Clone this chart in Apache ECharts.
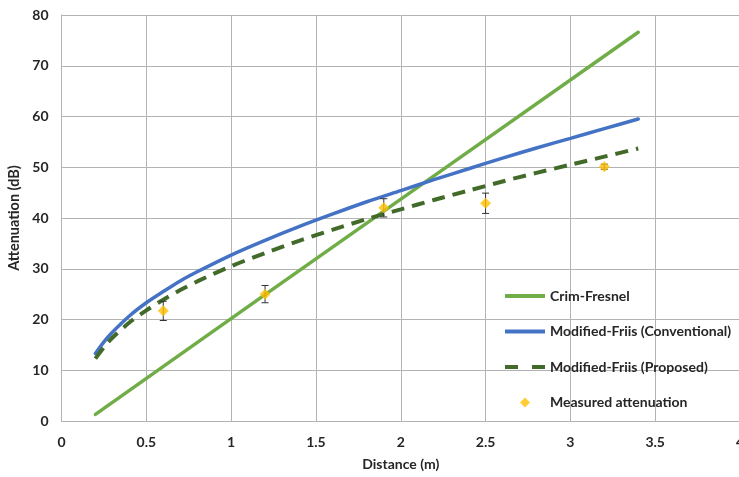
<!DOCTYPE html>
<html>
<head>
<meta charset="utf-8">
<script src="https://cdn.jsdelivr.net/npm/echarts@6/dist/echarts.min.js"></script>
<style>
html,body{margin:0;padding:0;background:#fff;}
#chart{width:739px;height:477px;}
</style>
</head>
<body>
<div id="chart"></div>
<script>
// ---- data ----
const xTicks = [0, 0.5, 1, 1.5, 2, 2.5, 3, 3.5, 4];
const yTicks = [0, 10, 20, 30, 40, 50, 60, 70, 80];

const fresnelX = [0.2, 1.2, 2.2, 3.4];
const fresnelY = [1.3, 24.9, 48.4, 76.6];

const curveX = [0.2, 0.25, 0.3, 0.4, 0.5, 0.6, 0.7, 0.8, 1.0, 1.2, 1.4, 1.6, 1.8, 2.0, 2.2, 2.4, 2.6, 2.8, 3.0, 3.2, 3.4];
const conventionalY = [13.3, 15.6, 17.5, 20.7, 23.3, 25.5, 27.6, 29.4, 32.7, 35.6, 38.3, 40.8, 43.2, 45.4, 47.6, 49.7, 51.8, 53.8, 55.7, 57.6, 59.5];
const proposedY = [12.3, 14.5, 16.4, 19.4, 21.8, 23.9, 25.8, 27.5, 30.5, 33.1, 35.5, 37.7, 39.8, 41.7, 43.6, 45.4, 47.2, 48.9, 50.5, 52.1, 53.7];

const measuredX = [0.6, 1.2, 1.9, 2.5, 3.2];
const measuredY = [21.7, 25.0, 42.0, 42.9, 50.1];
const measuredErr = [1.9, 1.7, 1.8, 2.0, 0.5];

const seriesNames = ['Crim-Fresnel', 'Modified-Friis (Conventional)', 'Modified-Friis (Proposed)', 'Measured attenuation'];

// ---- build ----
const zip = (xs, ys) => xs.map((x, i) => [x, ys[i]]);
const FONT = 'Lato';
const TXT = '#262626';
const GRIDC = '#b3b3b3';
const ICON_LINE = 'path://M0,0H40V4H0Z';
const ICON_DASH = 'path://M0,0H13V4H0Z M27,0H40V4H27Z';
const ICON_DIAMOND = 'path://M5,0L10,5L5,10L0,5Z';

const chart = echarts.init(document.getElementById('chart'), null, {renderer: 'canvas'});
chart.setOption({
  animation: false,
  backgroundColor: '#fff',
  grid: {left: 61.5, top: 15, width: 678.5, height: 406, containLabel: false, outerBoundsMode: 'none'},
  xAxis: {
    type: 'value', min: xTicks[0], max: xTicks[xTicks.length - 1], interval: 0.5,
    name: 'Distance (m)', nameLocation: 'middle', nameGap: 36,
    nameTextStyle: {fontFamily: FONT, fontWeight: 'bold', fontSize: 14, color: TXT},
    axisLine: {show: true, lineStyle: {color: GRIDC, width: 1}},
    axisTick: {show: false},
    splitLine: {show: true, lineStyle: {color: GRIDC, width: 1}},
    axisLabel: {fontFamily: FONT, fontWeight: 'bold', fontSize: 14, color: TXT, margin: 14,
      formatter: v => String(v)}
  },
  yAxis: {
    type: 'value', min: yTicks[0], max: yTicks[yTicks.length - 1], interval: 10,
    name: 'Attenuation (dB)', nameLocation: 'middle', nameGap: 35, nameRotate: 90,
    nameTextStyle: {fontFamily: FONT, fontWeight: 'bold', fontSize: 14.5, color: TXT},
    axisLine: {show: true, lineStyle: {color: GRIDC, width: 1}},
    axisTick: {show: false},
    splitLine: {show: true, lineStyle: {color: GRIDC, width: 1}},
    axisLabel: {fontFamily: FONT, fontWeight: 'bold', fontSize: 14, color: TXT, margin: 13}
  },
  legend: {
    orient: 'vertical', left: 500, top: 284,
    itemWidth: 40, itemHeight: 10, itemGap: 21.5,
    textStyle: {fontFamily: FONT, fontWeight: 'bold', fontSize: 14, color: TXT},
    data: [
      {name: seriesNames[0], icon: ICON_LINE, itemStyle: {color: '#70AD47'}},
      {name: seriesNames[1], icon: ICON_LINE, itemStyle: {color: '#4472C4'}},
      {name: seriesNames[2], icon: ICON_DASH, itemStyle: {color: '#426B2A'}},
      {name: seriesNames[3], icon: ICON_DIAMOND, itemStyle: {color: '#FFC000'}}
    ]
  },
  series: [
    {
      name: seriesNames[0], type: 'line', data: zip(fresnelX, fresnelY),
      showSymbol: false, symbol: 'none', smooth: false,
      lineStyle: {color: '#70AD47', width: 3.5, cap: 'round'}, itemStyle: {color: '#70AD47'}, z: 2
    },
    {
      name: seriesNames[1], type: 'line', data: zip(curveX, conventionalY),
      showSymbol: false, symbol: 'none', smooth: 0.3,
      lineStyle: {color: '#4472C4', width: 3.5, cap: 'round'}, itemStyle: {color: '#4472C4'}, z: 3
    },
    {
      name: seriesNames[2], type: 'line', data: zip(curveX, proposedY),
      showSymbol: false, symbol: 'none', smooth: 0.3,
      lineStyle: {color: '#426B2A', width: 4, type: [13, 8]}, itemStyle: {color: '#426B2A'}, z: 4
    },
    {
      name: 'err', type: 'custom', z: 5, silent: true,
      data: measuredX.map((x, i) => [x, measuredY[i] - measuredErr[i], measuredY[i] + measuredErr[i]]),
      renderItem: function (params, api) {
        const lo = api.coord([api.value(0), api.value(1)]);
        const hi = api.coord([api.value(0), api.value(2)]);
        const hw = 3.5;
        const st = {stroke: '#333', lineWidth: 1};
        return {
          type: 'group',
          children: [
            {type: 'line', shape: {x1: lo[0], y1: lo[1], x2: hi[0], y2: hi[1]}, style: st},
            {type: 'line', shape: {x1: lo[0] - hw, y1: lo[1], x2: lo[0] + hw, y2: lo[1]}, style: st},
            {type: 'line', shape: {x1: hi[0] - hw, y1: hi[1], x2: hi[0] + hw, y2: hi[1]}, style: st}
          ]
        };
      }
    },
    {
      name: seriesNames[3], type: 'scatter', data: zip(measuredX, measuredY),
      symbol: 'diamond', symbolSize: 11, itemStyle: {color: '#FFC000'}, z: 6
    }
  ]
});
</script>
</body>
</html>
